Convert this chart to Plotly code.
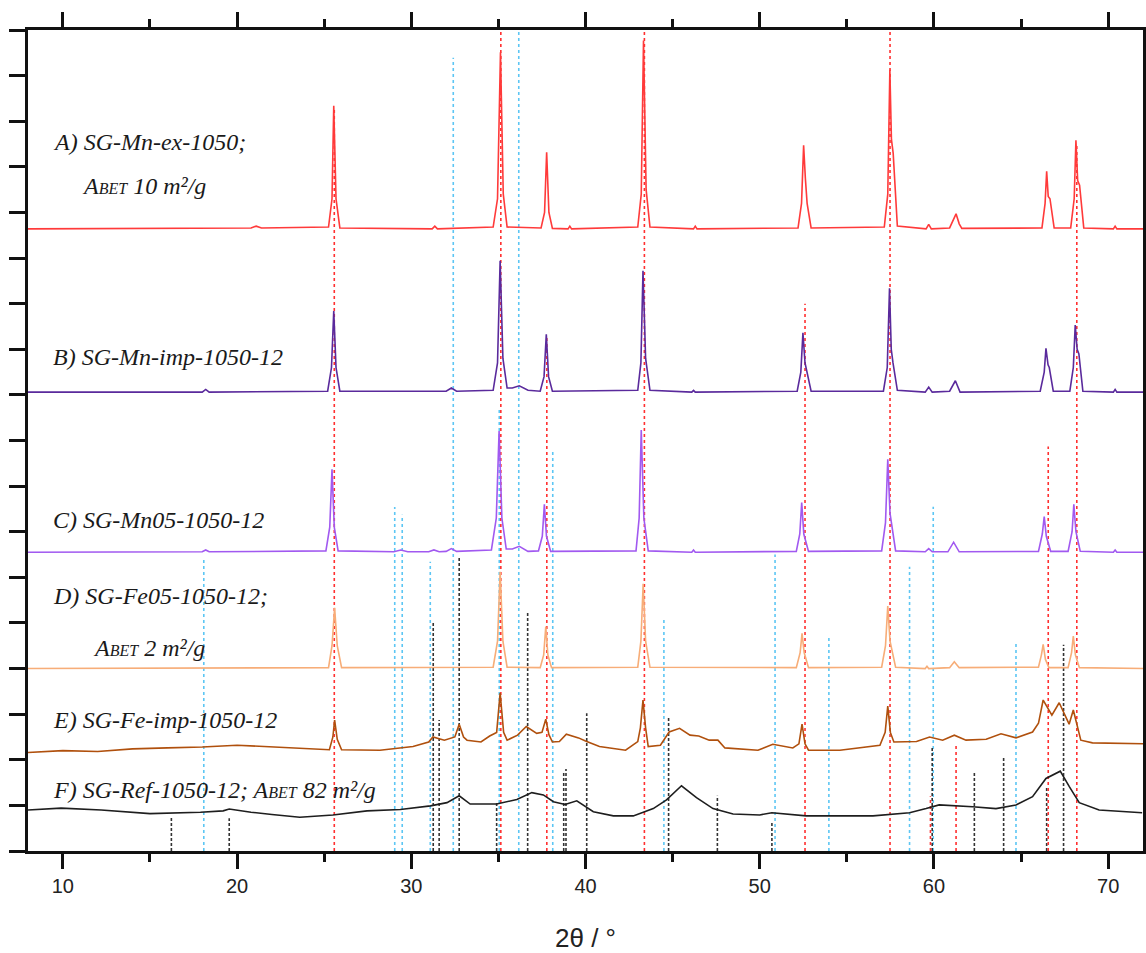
import plotly.graph_objects as go

# ---------------- data ----------------
trace_A = [(8, 13.64), (20.8, 13.66), (21.1, 13.7), (21.4, 13.66), (25.25, 13.68), (25.45, 14.3), (25.55, 16.34),
           (25.68, 14.3), (25.9, 13.66), (31.2, 13.64), (31.35, 13.7), (31.5, 13.64), (34.7, 13.68), (34.95, 14.3),
           (35.12, 17.51), (35.28, 14.4), (35.5, 13.68), (37.45, 13.66), (37.65, 14.0), (37.77, 15.32), (37.9, 14.0),
           (38.1, 13.65), (39.0, 13.64), (39.1, 13.7), (39.2, 13.64), (43.0, 13.68), (43.2, 14.4), (43.33, 17.77),
           (43.48, 14.5), (43.7, 13.68), (46.2, 13.64), (46.3, 13.7), (46.4, 13.64), (52.2, 13.66), (52.4, 14.2),
           (52.52, 15.47), (52.62, 14.75), (52.72, 14.2), (52.95, 13.66), (57.15, 13.68), (57.35, 14.4), (57.47, 17.13),
           (57.56, 15.6), (57.66, 15.3), (57.9, 13.7), (59.55, 13.64), (59.7, 13.74), (59.85, 13.64), (60.9, 13.66),
           (61.15, 13.85), (61.27, 13.97), (61.45, 13.75), (61.6, 13.65), (66.2, 13.66), (66.38, 14.2), (66.47, 14.9),
           (66.56, 14.35), (66.66, 14.3), (66.9, 13.66), (67.85, 13.66), (68.05, 14.3), (68.15, 15.58), (68.25, 14.7),
           (68.36, 14.6), (68.6, 13.66), (70.3, 13.64), (70.4, 13.7), (70.5, 13.64), (72, 13.64)]

trace_B = [(8, 10.06), (18.0, 10.06), (18.2, 10.12), (18.4, 10.06), (25.2, 10.08), (25.42, 10.6), (25.55, 11.84),
           (25.68, 10.6), (25.9, 10.08), (32.0, 10.08), (32.3, 10.15), (32.6, 10.08), (34.7, 10.1), (34.95, 10.7),
           (35.1, 12.94), (35.26, 10.8), (35.5, 10.15), (35.8, 10.15), (36.2, 10.2), (36.7, 10.1), (37.4, 10.08),
           (37.62, 10.4), (37.75, 11.33), (37.88, 10.4), (38.1, 10.08), (43.0, 10.1), (43.18, 10.7), (43.3, 12.72),
           (43.45, 10.8), (43.7, 10.1), (46.1, 10.06), (46.2, 10.1), (46.3, 10.06), (52.15, 10.08), (52.36, 10.5),
           (52.48, 11.36), (52.6, 10.7), (52.7, 10.5), (52.95, 10.08), (57.1, 10.08), (57.32, 10.6), (57.45, 12.34),
           (57.55, 11.0), (57.65, 10.7), (57.9, 10.1), (59.5, 10.06), (59.7, 10.17), (59.9, 10.06), (60.9, 10.08),
           (61.23, 10.31), (61.5, 10.06), (66.1, 10.08), (66.33, 10.5), (66.43, 11.02), (66.55, 10.66), (66.62, 10.6),
           (66.85, 10.08), (67.8, 10.08), (68.0, 10.6), (68.11, 11.53), (68.22, 11.0), (68.32, 10.9), (68.55, 10.08),
           (70.3, 10.06), (70.4, 10.12), (70.5, 10.06), (72, 10.06)]

trace_C = [(8, 6.55), (18.0, 6.56), (18.2, 6.6), (18.4, 6.56), (25.1, 6.58), (25.32, 7.1), (25.45, 8.37), (25.58, 7.1),
           (25.8, 6.58), (29.0, 6.56), (29.4, 6.6), (29.8, 6.56), (31.0, 6.56), (31.3, 6.6), (31.6, 6.56), (32.0, 6.57),
           (32.3, 6.63), (32.6, 6.57), (34.6, 6.6), (34.88, 7.3), (35.04, 9.21), (35.2, 7.3), (35.45, 6.62), (35.8, 6.62),
           (36.2, 6.68), (36.7, 6.57), (37.3, 6.58), (37.52, 6.9), (37.64, 7.6), (37.76, 6.9), (38.0, 6.57), (42.9, 6.58),
           (43.08, 7.3), (43.2, 9.23), (43.35, 7.3), (43.6, 6.58), (46.1, 6.55), (46.2, 6.6), (46.3, 6.55), (52.1, 6.57),
           (52.3, 6.95), (52.41, 7.64), (52.53, 6.95), (52.8, 6.57), (57.0, 6.58), (57.22, 7.2), (57.35, 8.59),
           (57.48, 7.4), (57.8, 6.58), (59.5, 6.56), (59.7, 6.63), (59.9, 6.56), (60.8, 6.56), (61.13, 6.77),
           (61.45, 6.56), (66.0, 6.57), (66.22, 6.95), (66.33, 7.33), (66.45, 6.9), (66.7, 6.57), (67.7, 6.57),
           (67.93, 7.0), (68.03, 7.6), (68.15, 7.0), (68.4, 6.57), (70.3, 6.55), (70.4, 6.6), (70.5, 6.55), (72, 6.55)]

trace_D = [(8, 4.0), (25.25, 4.02), (25.45, 4.5), (25.6, 5.33), (25.75, 4.5), (26.0, 4.02), (34.7, 4.03), (34.95, 4.6),
           (35.1, 6.12), (35.26, 4.6), (35.5, 4.03), (37.4, 4.02), (37.6, 4.3), (37.72, 4.92), (37.84, 4.3), (38.05, 4.02),
           (43.0, 4.03), (43.18, 4.6), (43.31, 5.86), (43.45, 4.6), (43.7, 4.03), (52.1, 4.02), (52.32, 4.35),
           (52.43, 4.77), (52.55, 4.35), (52.8, 4.02), (57.0, 4.03), (57.22, 4.5), (57.35, 5.37), (57.48, 4.6),
           (57.8, 4.03), (59.5, 4.0), (59.6, 4.05), (59.7, 4.0), (60.9, 4.02), (61.17, 4.15), (61.45, 4.02), (66.0, 4.03),
           (66.17, 4.3), (66.27, 4.53), (66.4, 4.2), (66.6, 4.02), (67.7, 4.02), (67.9, 4.35), (68.0, 4.71), (68.12, 4.3),
           (68.35, 4.02), (72, 4.0)]

trace_E = [(8, 2.16), (10, 2.2), (12, 2.18), (14, 2.24), (16, 2.26), (18, 2.28), (20, 2.32), (22, 2.28), (24, 2.24),
           (25.3, 2.22), (25.5, 2.5), (25.6, 2.87), (25.75, 2.45), (26.0, 2.22), (28.2, 2.21), (30.1, 2.29), (31.0, 2.39),
           (31.24, 2.5), (31.9, 2.43), (32.5, 2.5), (32.75, 2.78), (33.0, 2.5), (33.2, 2.43), (34.0, 2.39), (34.5, 2.52),
           (34.9, 2.6), (35.1, 3.46), (35.3, 2.6), (35.5, 2.43), (36.1, 2.54), (36.6, 2.73), (37.2, 2.58), (37.5, 2.6),
           (37.72, 2.89), (37.9, 2.55), (38.1, 2.39), (38.5, 2.4), (38.9, 2.56), (39.6, 2.48), (40.0, 2.41), (40.8, 2.29),
           (42.3, 2.21), (43.0, 2.4), (43.15, 2.7), (43.3, 3.31), (43.45, 2.7), (43.6, 2.29), (44.3, 2.32), (44.8, 2.61),
           (45.4, 2.69), (46.0, 2.54), (46.5, 2.52), (47.1, 2.43), (47.6, 2.43), (48.0, 2.26), (49.9, 2.21),
           (50.75, 2.34), (51.9, 2.26), (52.25, 2.35), (52.43, 2.78), (52.6, 2.35), (52.8, 2.21), (54.6, 2.21),
           (56.9, 2.32), (57.2, 2.6), (57.35, 3.18), (57.5, 2.6), (57.7, 2.39), (59.0, 2.4), (59.75, 2.5), (60.5, 2.43),
           (61.17, 2.54), (61.84, 2.43), (63.0, 2.45), (63.85, 2.57), (64.71, 2.48), (65.66, 2.61), (66.0, 2.8),
           (66.27, 3.31), (66.77, 2.98), (67.19, 3.25), (67.76, 2.78), (68.0, 3.09), (68.43, 2.43), (69.1, 2.37),
           (72, 2.35)]

trace_F = [(8, 0.9), (9.9, 0.94), (12.2, 0.9), (15.0, 0.82), (17.9, 0.85), (19.2, 0.88), (19.55, 0.92), (20.8, 0.85),
           (22, 0.8), (23.6, 0.74), (25.5, 0.79), (27.46, 0.88), (29.37, 0.91), (31.1, 0.99), (32.05, 1.06),
           (32.75, 1.21), (33.38, 1.03), (34.9, 1.03), (36.06, 1.13), (36.92, 1.28), (37.58, 1.23), (38.16, 1.08),
           (38.83, 1.02), (39.5, 1.1), (40.45, 0.86), (41.6, 0.77), (42.74, 0.77), (43.89, 0.93), (44.65, 1.12),
           (45.51, 1.43), (46.37, 1.17), (47.32, 0.93), (48.47, 0.81), (50.0, 0.79), (50.7, 0.84), (52.67, 0.77),
           (56.5, 0.77), (58.6, 0.84), (59.55, 0.93), (60.3, 1.01), (62.22, 0.97), (63.56, 0.93), (64.71, 1.01),
           (65.66, 1.19), (66.43, 1.59), (67.25, 1.75), (67.77, 1.41), (68.34, 1.06), (69.48, 0.9), (71.95, 0.84)]

# reference stick patterns: positions and top heights
red_pos = [25.58, 35.14, 37.78, 43.38, 52.6, 57.48, 59.8, 61.27, 66.56, 68.2]
red_top = [16.3, 18, 11.3, 18, 12.0, 18, 1.2, 2.3, 8.87, 15.5]
blue_pos = [18.09, 29.05, 29.48, 31.09, 32.41, 35.05, 36.17, 38.12, 44.5, 50.88, 53.97, 58.6, 59.96, 64.71]
blue_top = [6.38, 7.54, 7.37, 6.34, 17.39, 9.7, 18, 8.75, 5.09, 6.5, 4.71, 6.23, 7.55, 4.54]
black_pos = [16.23, 19.55, 31.26, 31.6, 32.75, 34.9, 36.68, 38.75, 38.88, 40.07, 44.77, 47.57, 50.7, 59.9, 62.32,
             64.0, 66.47, 67.44]
black_top = [0.75, 0.72, 5.03, 2.87, 6.45, 1.05, 5.25, 1.71, 1.8, 3.02, 2.95, 1.21, 0.64, 2.29, 1.71, 2.08, 1.41, 4.52]

sample_names = ["A", "B", "C", "D", "E", "F"]
sample_colors = ["#ff3a3a", "#5a2a9c", "#a159f0", "#f7ad78", "#b0500d", "#1e1e1e"]
x_ticks = [10, 20, 30, 40, 50, 60, 70]

SC = "<span style='font-size:16px'>BET</span>"
labels = [
    ("A) SG-Mn-ex-1050;", 9.3, 15.55),
    ("A" + SC + " 10 m²/g", 11.0, 14.58),
    ("B) SG-Mn-imp-1050-12", 9.3, 10.83),
    ("C) SG-Mn05-1050-12", 9.3, 7.26),
    ("D) SG-Fe05-1050-12;", 9.3, 5.59),
    ("A" + SC + " 2 m²/g", 11.6, 4.45),
    ("E) SG-Fe-imp-1050-12", 9.3, 2.87),
    ("F) SG-Ref-1050-12; A" + SC + " 82 m²/g", 9.3, 1.34),
]

# ---------------- figure ----------------
fig = go.Figure()


def sticks(pos, top):
    xs, ys = [], []
    for p, t in zip(pos, top):
        xs += [p, p, None]
        ys += [0, t, None]
    return xs, ys


for pos, top, col, dash in [(blue_pos, blue_top, "#5cc6f4", "dot"),
                            (black_pos, black_top, "#333333", "3px,2px"),
                            (red_pos, red_top, "#ff3030", "dot")]:
    xs, ys = sticks(pos, top)
    fig.add_trace(go.Scatter(x=xs, y=ys, mode="lines", line=dict(color=col, width=1.6, dash=dash),
                             hoverinfo="skip", showlegend=False))

for name, data, col in zip(sample_names, [trace_A, trace_B, trace_C, trace_D, trace_E, trace_F], sample_colors):
    fig.add_trace(go.Scatter(x=[p[0] for p in data], y=[p[1] for p in data], mode="lines", name=name,
                             line=dict(color=col, width=1.6), showlegend=False))

for text, x, y in labels:
    fig.add_annotation(x=x, y=y, xref="x", yref="y", text="<i>" + text + "</i>", showarrow=False,
                       xanchor="left", yanchor="middle",
                       font=dict(family="Liberation Serif, serif", size=24, color="#1a1a1a"))

fig.update_layout(
    width=1146, height=953,
    margin=dict(l=28, r=3, t=30, b=102, autoexpand=False),
    paper_bgcolor="white", plot_bgcolor="white",
    font=dict(family="Liberation Sans, Arial, sans-serif", color="#222222"),
    xaxis=dict(range=[8, 72], tickvals=x_ticks, ticks="outside", ticklen=15, tickwidth=2.5, tickcolor="#111",
               minor=dict(dtick=5, ticks="outside", ticklen=8, tickwidth=2.5, tickcolor="#111"),
               showline=True, linewidth=2.5, linecolor="#111", mirror="ticks", showgrid=False, zeroline=False,
               automargin=False, tickfont=dict(size=20, color="#222"),
               title=dict(text="2θ / °", font=dict(size=26, color="#222"), standoff=34)),
    yaxis=dict(range=[0, 18], dtick=1, tick0=0, ticks="outside", ticklen=16, tickwidth=2.5, tickcolor="#111",
               showticklabels=False, showline=True, linewidth=2.5, linecolor="#111", mirror="ticks",
               automargin=False, showgrid=False, zeroline=False),
)

fig.write_html("out.html")
